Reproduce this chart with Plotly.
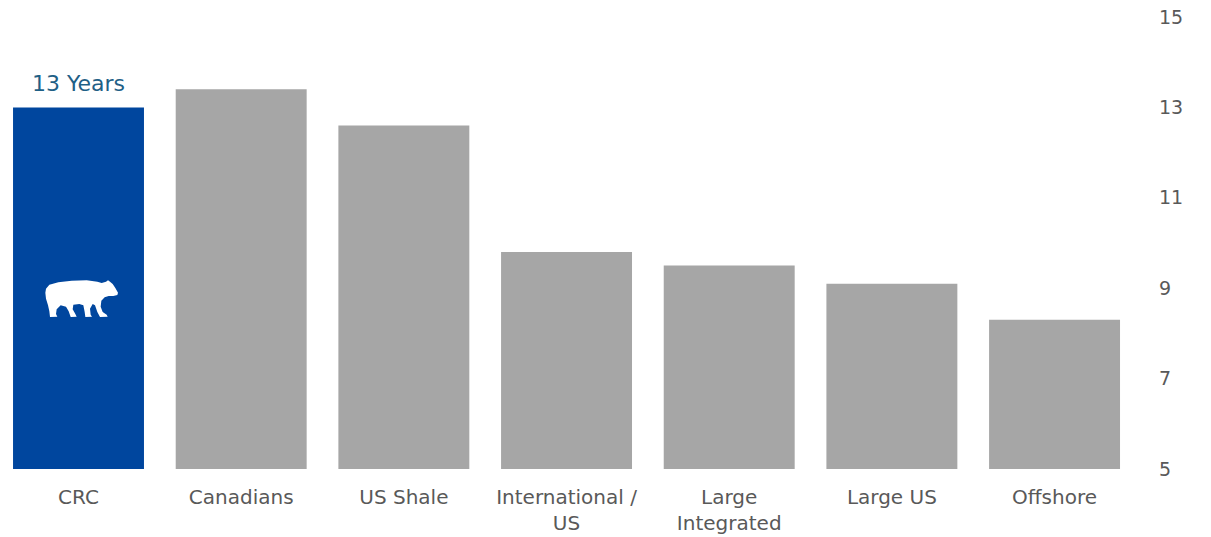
import plotly.graph_objects as go

categories = ["CRC", "Canadians", "US Shale", "International /<br>US", "Large<br>Integrated", "Large US", "Offshore"]
values = [13.0, 13.4, 12.6, 9.8, 9.5, 9.1, 8.3]
highlight = "CRC"
y_ticks = [5, 7, 9, 11, 13, 15]

BLUE = "#00469E"
GREY = "#A6A6A6"
TEXT = "#595959"
LABEL = "#1F6086"
FONT = "DejaVu Sans"

W, H = 1211, 537
margin = dict(l=0, r=59, t=17, b=68)
x_range = [-0.4826, 6.599]
y_range = [5, 15]

colors = [BLUE if c == highlight else GREY for c in categories]

fig = go.Figure()
fig.add_trace(go.Bar(
    x=list(range(len(categories))), y=[v - y_range[0] for v in values], base=y_range[0],
    marker=dict(color=colors, line=dict(width=0)),
    width=0.805, hoverinfo="skip",
))

# value label above highlighted bar
hi = categories.index(highlight)
fig.add_annotation(x=hi, y=values[hi], text=f"{values[hi]:.0f} Years", showarrow=False,
                   yanchor="bottom", yshift=9, font=dict(family=FONT, size=22, color=LABEL))

# bear icon (outline in local icon units, 3 units per pixel), placed on the highlighted bar
bear = [(18,38),(28,26),(55,19),(95,14),(140,13),(172,17),(185,21),(198,17),(204,13),(210,17),
        (218,24),(226,36),(234,50),(232,57),(220,60),(206,60),(194,64),(184,74),(182,92),(188,108),
        (200,116),(203,122),(180,123),(172,108),(165,88),(158,84),(150,98),(152,116),(156,122),
        (136,123),(134,108),(130,88),(118,84),(100,86),(98,100),(106,114),(110,122),(92,123),
        (86,106),(78,92),(62,88),(50,100),(48,114),(52,122),(30,123),(28,106),(24,88),(18,68),(16,50)]
plot_w = W - margin["l"] - margin["r"]
plot_h = H - margin["t"] - margin["b"]
sx = (x_range[1] - x_range[0]) / plot_w / 3.0
sy = (y_range[1] - y_range[0]) / plot_h / 3.0
cx_icon, cy_icon = 115.5, 68
bear_y_center = y_range[0] + (values[hi] - y_range[0]) * 0.471
path = "M " + " L ".join(f"{hi + (px - cx_icon) * sx:.5f},{bear_y_center - (py - cy_icon) * sy:.5f}" for px, py in bear) + " Z"
fig.add_shape(type="path", path=path, xref="x", yref="y", fillcolor="white", line=dict(width=0), layer="above")

fig.update_layout(
    width=W, height=H, margin=margin,
    paper_bgcolor="white", plot_bgcolor="white",
    showlegend=False, bargap=0.2,
    font=dict(family=FONT, color=TEXT, size=20),
    xaxis=dict(tickmode="array", tickvals=list(range(len(categories))), ticktext=categories,
               range=x_range, showgrid=False, zeroline=False, showline=False, ticks="",
               tickfont=dict(family=FONT, size=20, color=TEXT), ticklabelstandoff=14,
               fixedrange=True),
    yaxis=dict(side="right", range=y_range, tickvals=y_ticks, showgrid=False, zeroline=False,
               showline=False, ticks="", tickfont=dict(family=FONT, size=19, color=TEXT),
               ticklabelstandoff=6, fixedrange=True),
)

fig.write_html("out.html", config={"displayModeBar": False})
